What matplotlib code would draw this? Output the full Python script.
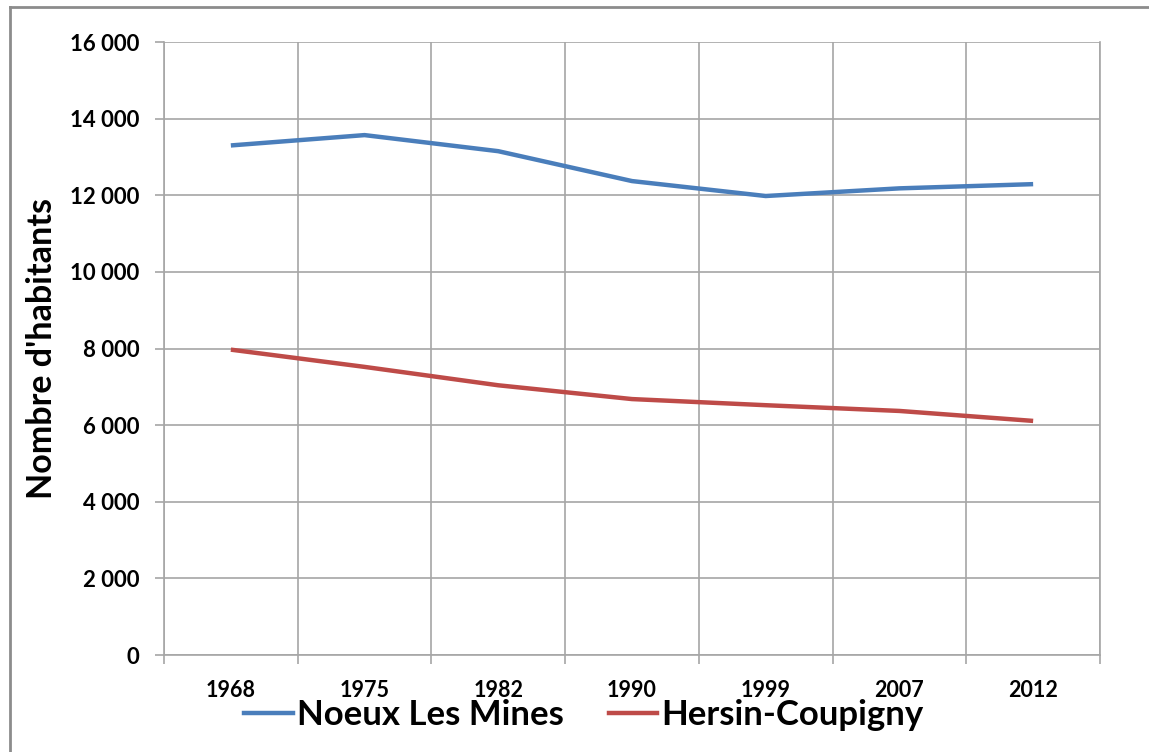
import matplotlib.pyplot as plt
from matplotlib.lines import Line2D
from matplotlib.ticker import FuncFormatter, MultipleLocator

years = ["1968", "1975", "1982", "1990", "1999", "2007", "2012"]
noeux = [13300, 13570, 13150, 12370, 11980, 12180, 12290]
hersin = [7970, 7520, 7040, 6680, 6520, 6370, 6110]

blue = "#4a7ebb"
red = "#be4b48"
grid_col = "#a6a6a6"

plt.rcParams["font.family"] = ["Lato", "DejaVu Sans"]

fig = plt.figure(figsize=(11.49, 7.52), dpi=100)
ax = fig.add_axes([164 / 1149, 97 / 752, 936 / 1149, 613 / 752])

x = list(range(len(years)))
ax.plot(x, noeux, color=blue, lw=3.2, solid_capstyle="butt", label="Noeux Les Mines")
ax.plot(x, hersin, color=red, lw=3.2, solid_capstyle="butt", label="Hersin-Coupigny")

ax.set_xlim(-0.5, len(years) - 0.5)
ax.set_ylim(0, 16000)
ax.yaxis.set_major_locator(MultipleLocator(2000))
ax.yaxis.set_major_formatter(FuncFormatter(lambda v, p: f"{int(v):,}".replace(",", " ")))

# category labels sit between the gridlines, like Excel
ax.set_xticks([i - 0.5 for i in range(len(years) + 1)])
ax.set_xticklabels([])
ax.set_xticks(x, minor=True)
ax.set_xticklabels(years, minor=True, fontsize=15.5, fontweight="bold")
ax.tick_params(axis="x", which="minor", length=0, pad=18)
ax.tick_params(axis="x", which="major", length=6.5, color=grid_col, width=1.2)
ax.tick_params(axis="y", length=6.5, color=grid_col, width=1.2, labelsize=16, pad=11)
for t in ax.get_yticklabels():
    t.set_fontweight("bold")

ax.grid(True, which="major", color=grid_col, lw=1.2)
ax.set_axisbelow(True)
for side in ["left", "bottom", "right"]:
    ax.spines[side].set_color(grid_col)
    ax.spines[side].set_linewidth(1.2)
ax.spines["top"].set_visible(False)

fig.text(42 / 1149, (752 - 349) / 752, "Nombre d'habitants", rotation=90,
         ha="center", va="center", fontsize=24.5, fontweight="bold")

handles = [Line2D([], [], color=blue, lw=3.2), Line2D([], [], color=red, lw=3.2)]
fig.legend(handles, ["Noeux Les Mines", "Hersin-Coupigny"], loc="center",
           bbox_to_anchor=(584 / 1149, (752 - 715) / 752), ncol=2, frameon=False,
           prop={"size": 25, "weight": "bold"}, handlelength=1.4,
           handletextpad=0.12, columnspacing=1.3)

# outer chart frame (only top and left edges visible)
fig.add_artist(Line2D([10 / 1149, 10 / 1149], [0, 1 - 7 / 752], transform=fig.transFigure,
                      color="#8c8c8c", lw=2))
fig.add_artist(Line2D([10 / 1149, 1], [1 - 7 / 752, 1 - 7 / 752], transform=fig.transFigure,
                      color="#8c8c8c", lw=2))

fig.savefig("out.png", dpi=100)
